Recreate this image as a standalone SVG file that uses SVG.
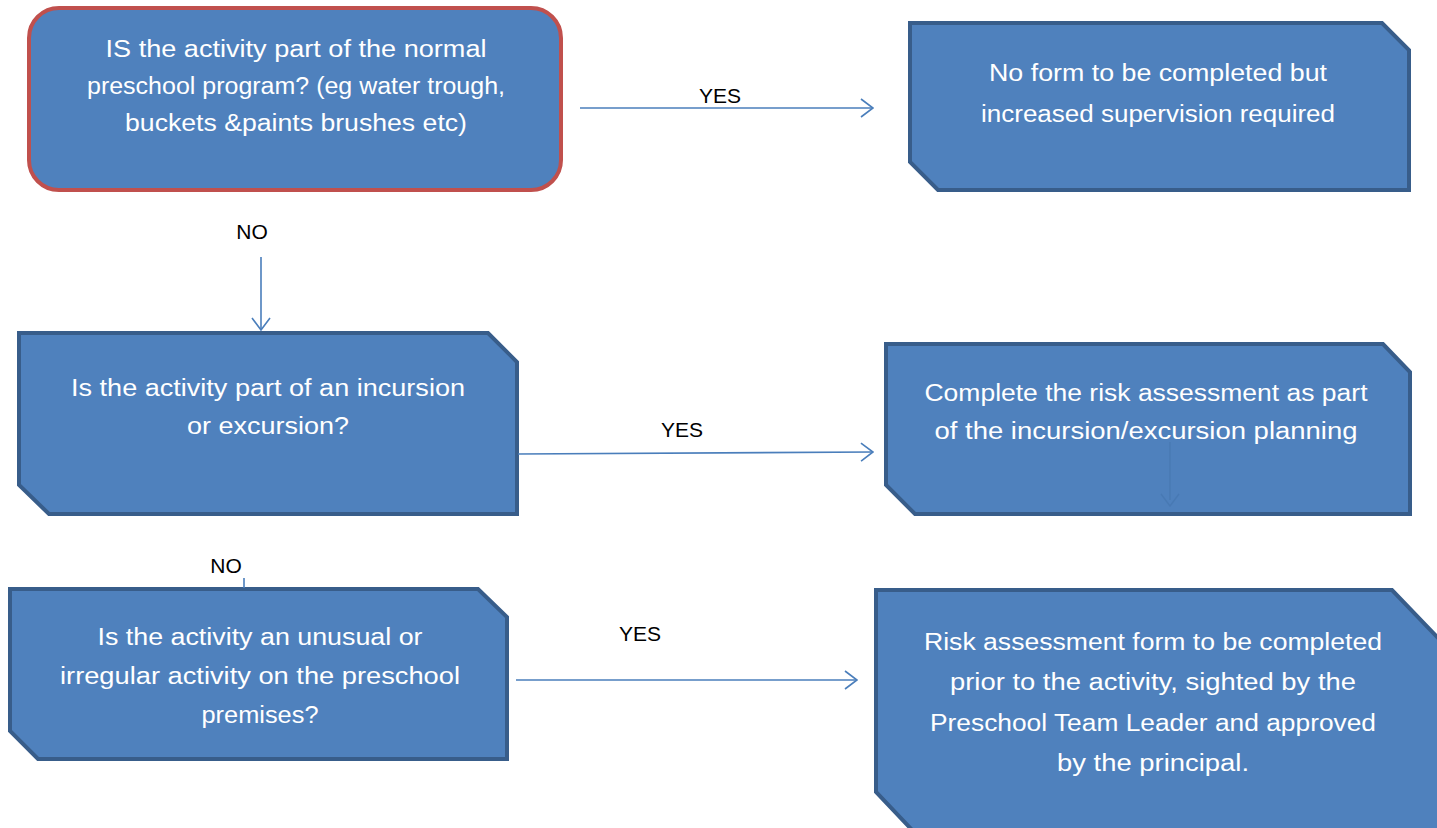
<svg xmlns="http://www.w3.org/2000/svg" width="1437" height="828" viewBox="0 0 1437 828">
<defs>
<style>
.box{fill:#4F81BD;stroke:#385D8A;stroke-width:4;stroke-linejoin:miter}
.start{fill:#4F81BD;stroke:#C0504D;stroke-width:4}
.t{fill:#FFFFFF;font-family:"Liberation Sans",Arial,sans-serif;font-size:23px;text-anchor:middle}
.lbl{fill:#000000;font-family:"Liberation Sans",Arial,sans-serif;font-size:21px;text-anchor:middle}
.c{stroke:#4A7EBB;stroke-width:1.6;fill:none}
</style>
<marker id="ah" viewBox="0 0 14 20" refX="13" refY="10" markerWidth="14" markerHeight="20" markerUnits="userSpaceOnUse" orient="auto">
<path d="M1,1 L13,10 L1,19" fill="none" stroke="#4A7EBB" stroke-width="1.6"/>
</marker>
<marker id="ahf" viewBox="0 0 14 20" refX="7" refY="10" markerWidth="14" markerHeight="20" markerUnits="userSpaceOnUse" orient="auto">
<path d="M1,1 L13,10 L1,19" fill="none" stroke="#4677B0" stroke-width="1.4"/>
</marker>
</defs>
<rect width="1437" height="828" fill="#FFFFFF"/>

<g id="n1">
<rect class="start" x="29" y="8" width="532" height="182" rx="30" ry="30"/>
<text class="t" x="296" y="57" textLength="381" lengthAdjust="spacingAndGlyphs">IS the activity part of the normal</text>
<text class="t" x="296" y="94" textLength="418" lengthAdjust="spacingAndGlyphs">preschool program? (eg water trough,</text>
<text class="t" x="296" y="131" textLength="342" lengthAdjust="spacingAndGlyphs">buckets &amp;paints brushes etc)</text>
</g>

<g id="n2">
<path class="box" d="M910,23 L1382,23 L1409,50 L1409,190 L938,190 L910,162 Z"/>
<text class="t" x="1158" y="81" textLength="338" lengthAdjust="spacingAndGlyphs">No form to be completed but</text>
<text class="t" x="1158" y="122" textLength="354" lengthAdjust="spacingAndGlyphs">increased supervision required</text>
</g>

<g id="n3">
<path class="box" d="M19,333 L488,333 L517,362 L517,514 L49,514 L19,485 Z"/>
<text class="t" x="268" y="396" textLength="394" lengthAdjust="spacingAndGlyphs">Is the activity part of an incursion</text>
<text class="t" x="268" y="434" textLength="162" lengthAdjust="spacingAndGlyphs">or excursion?</text>
</g>

<g id="n4">
<path class="box" d="M886,344 L1383,344 L1410,372 L1410,514 L915,514 L886,485 Z"/>
<text class="t" x="1146" y="401" textLength="443" lengthAdjust="spacingAndGlyphs">Complete the risk assessment as part</text>
<text class="t" x="1146" y="439" textLength="423" lengthAdjust="spacingAndGlyphs">of the incursion/excursion planning</text>
</g>

<g id="n5">
<path class="box" d="M10,589 L478,589 L507,617 L507,759 L38,759 L10,731 Z"/>
<text class="t" x="260" y="645" textLength="325" lengthAdjust="spacingAndGlyphs">Is the activity an unusual or</text>
<text class="t" x="260" y="684" textLength="400" lengthAdjust="spacingAndGlyphs">irregular activity on the preschool</text>
<text class="t" x="260" y="723" textLength="117" lengthAdjust="spacingAndGlyphs">premises?</text>
</g>

<g id="n6">
<path class="box" d="M876,590 L1392,590 L1440,640 L1440,832 L914,832 L876,792 Z"/>
<text class="t" x="1153" y="650" textLength="458" lengthAdjust="spacingAndGlyphs">Risk assessment form to be completed</text>
<text class="t" x="1153" y="690" textLength="406" lengthAdjust="spacingAndGlyphs">prior to the activity, sighted by the</text>
<text class="t" x="1153" y="731" textLength="446" lengthAdjust="spacingAndGlyphs">Preschool Team Leader and approved</text>
<text class="t" x="1153" y="771" textLength="192" lengthAdjust="spacingAndGlyphs">by the principal.</text>
</g>

<g id="connectors">
<line class="c" x1="580" y1="108" x2="873" y2="108" marker-end="url(#ah)"/>
<line class="c" x1="261" y1="257" x2="261" y2="330" marker-end="url(#ah)"/>
<line class="c" x1="518" y1="454" x2="873" y2="452" marker-end="url(#ah)"/>
<line class="c" x1="516" y1="680" x2="857" y2="680" marker-end="url(#ah)"/>
<line class="c" x1="244" y1="578" x2="244" y2="588"/>
<line x1="1170" y1="442" x2="1170" y2="500" stroke="#4677B0" stroke-width="1.4" opacity="0.7" marker-end="url(#ahf)"/>
</g>

<g id="labels">
<text class="lbl" x="720" y="103">YES</text>
<text class="lbl" x="252" y="239">NO</text>
<text class="lbl" x="682" y="437">YES</text>
<text class="lbl" x="226" y="573">NO</text>
<text class="lbl" x="640" y="641">YES</text>
</g>
</svg>
